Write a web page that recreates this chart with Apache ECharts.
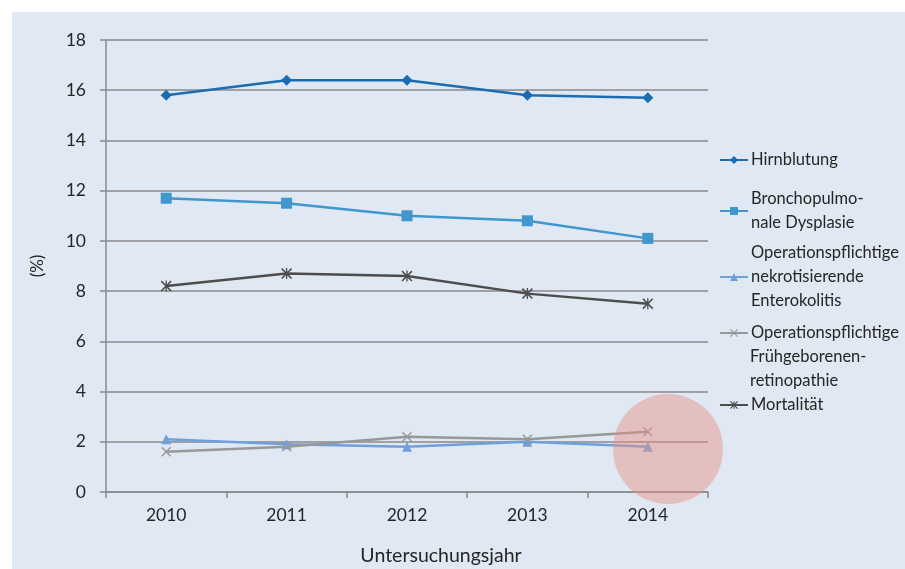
<!DOCTYPE html>
<html>
<head>
<meta charset="utf-8">
<script src="https://cdn.jsdelivr.net/npm/echarts@6/dist/echarts.min.js"></script>
<style>
  html, body { margin: 0; padding: 0; background: #ffffff; }
  #panel { position: absolute; left: 12px; top: 12px; right: 0; bottom: 0; background: #dfe8f3; }
  #chart { position: absolute; left: 0; top: 0; width: 905px; height: 569px; }
</style>
</head>
<body>
<div id="panel"></div>
<div id="chart"></div>
<script>
// data
const years = ['2010', '2011', '2012', '2013', '2014']
const hirnblutung = [15.8, 16.4, 16.4, 15.8, 15.7]
const bpd = [11.7, 11.5, 11.0, 10.8, 10.1]
const nec = [2.1, 1.9, 1.8, 2.0, 1.8]
const rop = [1.6, 1.8, 2.2, 2.1, 2.4]
const mortalitaet = [8.2, 8.7, 8.6, 7.9, 7.5]

const names = ['Hirnblutung', 'Bronchopulmonale Dysplasie', 'Operationspflichtige nekrotisierende Enterokolitis',
  'Operationspflichtige Frühgeborenenretinopathie', 'Mortalität']

const crossPath = 'path://M1,0L5,4L9,0L10,1L6,5L10,9L9,10L5,6L1,10L0,9L4,5L0,1Z'
const starPath = 'path://M1,0L5,4L9,0L10,1L6,5L10,9L9,10L5,6L1,10L0,9L4,5L0,1Z M4.4,0L5.6,0L5.6,10L4.4,10Z'

const font = 'Lato, "Open Sans", sans-serif'
const txt = '#262626'
const grey = '#8a8a8a'
const legendSize = 16.5

const myChart = echarts.init(document.getElementById('chart'))

function legendAt(name, top, formatter) {
  return {
    data: [name],
    orient: 'vertical',
    left: 719,
    top: top,
    padding: 0,
    itemWidth: 28,
    itemHeight: 10,
    selectedMode: false,
    formatter: formatter,
    textStyle: { color: txt, fontSize: legendSize, fontFamily: font, lineHeight: 24, padding: [0, 0, 0, -2] }
  }
}

function lineSeries(name, data, color, symbol, size) {
  return {
    name: name,
    type: 'line',
    data: data,
    symbol: symbol,
    symbolSize: size,
    lineStyle: { color: color, width: 2.5 },
    itemStyle: { color: color },
    z: 3
  }
}

const option = {
  animation: false,
  grid: { left: 106, right: 197, top: 40, bottom: 77, outerBoundsMode: 'none' },
  legend: [
    legendAt(names[0], 148, () => 'Hirnblutung'),
    legendAt(names[1], 187, () => 'Bronchopulmo-\nnale Dysplasie'),
    legendAt(names[2], 241, () => 'Operationspflichtige\nnekrotisierende\nEnterokolitis'),
    legendAt(names[3], 321, () => 'Operationspflichtige'),
    legendAt(names[4], 393, () => 'Mortalität')
  ],
  xAxis: {
    type: 'category',
    data: years,
    boundaryGap: true,
    name: 'Untersuchungsjahr',
    nameLocation: 'middle',
    nameGap: 54,
    nameTextStyle: { color: txt, fontSize: 19.5, fontFamily: font, padding: [0, 0, 0, 68] },
    axisLine: { lineStyle: { color: grey, width: 1.5 } },
    axisTick: { show: true, length: 6, lineStyle: { color: grey, width: 1.5 } },
    axisLabel: { color: txt, fontSize: 17.5, fontFamily: font, margin: 14 }
  },
  yAxis: {
    type: 'value',
    min: 0,
    max: 18,
    interval: 2,
    name: '(%)',
    nameLocation: 'middle',
    nameGap: 60,
    nameRotate: 90,
    nameTextStyle: { color: txt, fontSize: 17, fontFamily: font },
    axisLine: { show: true, lineStyle: { color: grey, width: 1.5 } },
    axisTick: { show: true, length: 6, lineStyle: { color: grey, width: 1.5 } },
    axisLabel: { color: txt, fontSize: 17.5, fontFamily: font, margin: 20 },
    splitLine: { lineStyle: { color: grey, width: 1.5 } }
  },
  series: [
    lineSeries(names[0], hirnblutung, '#1b6cb1', 'diamond', 11),
    lineSeries(names[1], bpd, '#4096cd', 'rect', 11),
    lineSeries(names[2], nec, '#70a0da', 'triangle', 10),
    lineSeries(names[3], rop, '#989898', crossPath, 10),
    lineSeries(names[4], mortalitaet, '#4d4d4d', starPath, 11)
  ],
  graphic: [
    {
      type: 'text',
      left: 750,
      top: 345,
      style: { text: 'Frühgeborenen-\nretinopathie', fill: txt, font: legendSize + 'px ' + font, lineHeight: 24 }
    },
    {
      type: 'circle',
      shape: { cx: 668, cy: 449, r: 55 },
      style: { fill: 'rgba(236,141,131,0.45)' },
      z: 100
    }
  ]
}

myChart.setOption(option)
</script>
</body>
</html>
